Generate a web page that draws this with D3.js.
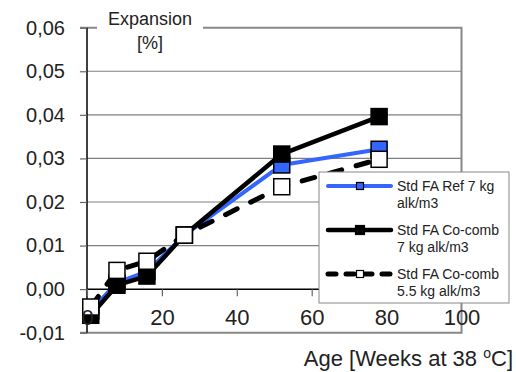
<!DOCTYPE html>
<html>
<head>
<meta charset="utf-8">
<script src="https://cdn.jsdelivr.net/npm/d3@7"></script>
<style>
  body { margin: 0; background: #fff; }
  text { font-family: "Liberation Sans", Arial, sans-serif; fill: #222; }
</style>
</head>
<body>
<div id="chart"></div>
<script>
var width = 516,
    height = 372,
    margin = {top: 28, bottom: 39, left: 87, right: 55};

// data
var weeks = [1, 8, 16, 26, 52, 78];
var ref7 = [-0.005, 0.0015, 0.004, 0.0124, 0.0285, 0.0321];
var cocomb7 = [-0.006, 0.0009, 0.003, 0.0124, 0.031, 0.0396];
var cocomb55 = [-0.0041, 0.0043, 0.0064, 0.0124, 0.0235, 0.0298];
var seriesNames = [["Std FA Ref 7 kg", "alk/m3"], ["Std FA Co-comb", "7 kg alk/m3"], ["Std FA Co-comb", "5.5 kg alk/m3"]];
var yTicks = [-0.01, 0, 0.01, 0.02, 0.03, 0.04, 0.05, 0.06];
var xTicks = [0, 20, 40, 60, 80, 100];

var series = [
  {vals: ref7, stroke: "#3366ff", fill: "#3366ff", dash: null, w: 4},
  {vals: cocomb7, stroke: "#000", fill: "#000", dash: null, w: 4.5},
  {vals: cocomb55, stroke: "#000", fill: "#fff", dash: "13,15", w: 5}
];

var svg = d3.select('#chart').append('svg')
    .attr('width', width)
    .attr('height', height);

var x = d3.scaleLinear().domain([0, 100]).range([margin.left, width - margin.right + 0.5]);
var y = d3.scaleLinear().domain([-0.01, 0.06]).range([height - margin.bottom - 0.3, margin.top - 0.3]);

var loc = d3.formatLocale({decimal: ",", thousands: ".", grouping: [3], currency: ["", ""]});
var fmt = loc.format(".2f");

// gridlines
svg.append("g").selectAll("line")
  .data(yTicks.filter(function(d){ return d > -0.01 && d < 0.06 && d != 0; }))
  .join("line")
  .attr("x1", x(0)).attr("x2", x(100))
  .attr("y1", function(d){ return y(d); }).attr("y2", function(d){ return y(d); })
  .attr("stroke", "#808080").attr("stroke-width", 1.2);

// plot border (top, right, bottom)
svg.append("path")
  .attr("d", "M" + (x(0) - 7) + "," + y(0.06) + "H" + x(100) + "V" + y(-0.01) + "H" + (x(0) - 7))
  .attr("fill", "none").attr("stroke", "#888").attr("stroke-width", 2);

// y axis
var yAxis = svg.append("g")
  .attr("transform", "translate(" + x(0) + ",0)")
  .call(d3.axisLeft(y).tickValues(yTicks).tickFormat(function(d){ return d < 0 ? "-" + fmt(-d) : fmt(d); }).tickSize(7).tickPadding(15));
yAxis.select(".domain").attr("stroke", "#000").attr("stroke-width", 1.5).attr("d", "M0," + y(0.06) + "V" + y(-0.01));
yAxis.selectAll(".tick line").attr("stroke", "#666").attr("stroke-width", 1.2);
yAxis.selectAll("text").style("font-size", "20px").attr("fill", "#222").attr("font-family", null);

// x axis at zero
var xAxis = svg.append("g")
  .attr("transform", "translate(0," + y(0) + ")")
  .call(d3.axisBottom(x).tickValues(xTicks).tickFormat(d3.format("d")).tickSize(7).tickPadding(13));
xAxis.select(".domain").attr("stroke", "#000").attr("stroke-width", 1.5).attr("d", "M" + x(0) + ",0H" + x(100));
xAxis.selectAll(".tick line").attr("stroke", "#666").attr("stroke-width", 1.2);
xAxis.selectAll("text").style("font-size", "22px").attr("fill", "#222").attr("font-family", null);

// y axis title with white patch over the border
svg.append("rect").attr("x", 97).attr("y", 0).attr("width", 106).attr("height", 52).attr("fill", "#fff");
svg.append("text").attr("x", 150).attr("y", 25).attr("text-anchor", "middle").style("font-size", "18px").text("Expansion");
svg.append("text").attr("x", 150).attr("y", 49).attr("text-anchor", "middle").style("font-size", "18px").text("[%]");

// lines + markers
var line = d3.line()
  .x(function(d, i){ return x(weeks[i]); })
  .y(function(d){ return y(d); });

series.forEach(function(s) {
  svg.append("path")
    .attr("d", line(s.vals))
    .attr("fill", "none")
    .attr("stroke", s.stroke)
    .attr("stroke-width", s.w)
    .attr("stroke-linejoin", "round")
    .attr("stroke-linecap", "round")
    .attr("stroke-dasharray", s.dash);
});
series.forEach(function(s) {
  svg.append("g").selectAll("rect")
    .data(s.vals)
    .join("rect")
    .attr("x", function(d, i){ return x(weeks[i]) - 8; })
    .attr("y", function(d){ return y(d) - 8; })
    .attr("width", 16).attr("height", 16)
    .attr("fill", s.fill)
    .attr("stroke", "#000")
    .attr("stroke-width", 1.5);
});

// bring tick labels to front
svg.node().appendChild(xAxis.node());

// x title
var xt = svg.append("text").attr("x", 513).attr("y", 366).attr("text-anchor", "end").style("font-size", "22px");
xt.append("tspan").text("Age [Weeks at 38 ");
xt.append("tspan").attr("dy", -8).style("font-size", "14px").text("o");
xt.append("tspan").attr("dy", 8).text("C]");

// legend
var leg = svg.append("g").attr("transform", "translate(319,172)");
leg.append("rect").attr("width", 190).attr("height", 131).attr("fill", "#fff").attr("stroke", "#888").attr("stroke-width", 1);
var legSize = [7, 9, 7];
series.forEach(function(s, j) {
  var cy = 14 + j * 44;
  leg.append("line")
    .attr("x1", 9).attr("x2", 72).attr("y1", cy).attr("y2", cy)
    .attr("stroke", s.stroke).attr("stroke-width", s.w)
    .attr("stroke-linecap", "round")
    .attr("stroke-dasharray", s.dash ? "8,10" : null);
  leg.append("rect")
    .attr("x", 41 - legSize[j] / 2).attr("y", cy - legSize[j] / 2)
    .attr("width", legSize[j]).attr("height", legSize[j])
    .attr("fill", s.fill).attr("stroke", "#000").attr("stroke-width", 1.2);
  leg.append("text").attr("x", 78).attr("y", cy + 5).style("font-size", "14px").text(seriesNames[j][0]);
  leg.append("text").attr("x", 78).attr("y", cy + 22).style("font-size", "14px").text(seriesNames[j][1]);
});
</script>
</body>
</html>
